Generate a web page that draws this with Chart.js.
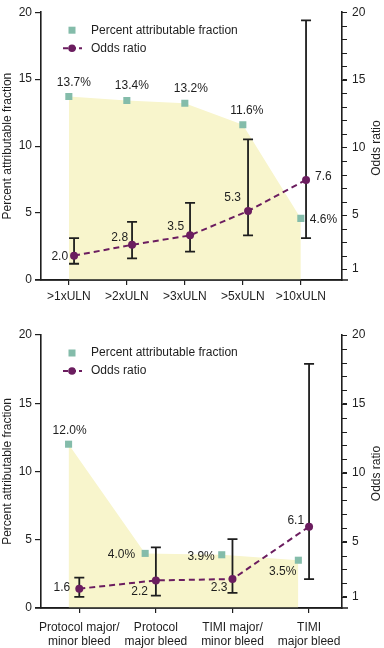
<!DOCTYPE html>
<html>
<head>
<meta charset="utf-8">
<script src="https://cdn.jsdelivr.net/npm/chart.js@4.4.0/dist/chart.umd.min.js"></script>
<style>
  body { margin: 0; background: #fff; }
  canvas { display: block; }
</style>
</head>
<body>
<canvas id="topChart" width="384" height="320"></canvas>
<canvas id="bottomChart" width="384" height="328"></canvas>
<script>
// --- data ---
const topCategories = ['>1xULN', '>2xULN', '>3xULN', '>5xULN', '>10xULN'];
const topPaf = [13.7, 13.4, 13.2, 11.6, 4.6];
const topOdds = [2.0, 2.8, 3.5, 5.3, 7.6];
const topOddsLow = [1.4, 1.8, 2.3, 3.5, 3.3];
const topOddsHigh = [3.3, 4.5, 5.9, 10.6, 19.4];

const bottomCategories = [
  ['Protocol major/', 'minor bleed'],
  ['Protocol', 'major bleed'],
  ['TIMI major/', 'minor bleed'],
  ['TIMI', 'major bleed'],
];
const bottomPaf = [12.0, 4.0, 3.9, 3.5];
const bottomOdds = [1.6, 2.2, 2.3, 6.1];
const bottomOddsLow = [1.0, 1.1, 1.3, 2.3];
const bottomOddsHigh = [2.4, 4.6, 5.2, 17.9];

const leftTicks = [0, 5, 10, 15, 20];
const rightTicks = [1, 5, 10, 15, 20];

const legendLabels = ['Percent attributable fraction', 'Odds ratio'];
const leftTitle = 'Percent attributable fraction';
const rightTitle = 'Odds ratio';

// --- styling ---
const FONT = "'Liberation Sans', Arial, sans-serif";
const INK = '#1e1e1e';
const PURPLE = '#6b1d5f';
const TEAL = '#84bcaa';
const YELLOW = '#f8f5cc';

function makeChart(canvasId, opt) {
  const pafPoints = opt.paf.map((v, i) => ({ x: i + opt.pafShift, y: v }));
  const orPoints = opt.odds.map((v, i) => ({ x: i + opt.orShift, y: v }));
  const rightMinor = Array.from({ length: 20 }, (_, k) => k + 1);

  const overlay = {
    id: 'overlay',
    beforeDatasetDraw(chart, args) {
      if (args.index !== 0) return;
      // error bars under the odds ratio line
      const ctx = chart.ctx;
      const xs = chart.scales.x;
      const yr = chart.scales.yr;
      ctx.save();
      ctx.strokeStyle = INK;
      ctx.lineWidth = 1.8;
      opt.odds.forEach((v, i) => {
        const px = xs.getPixelForValue(i + opt.orShift);
        const lo = yr.getPixelForValue(opt.oddsLow[i]);
        const hi = yr.getPixelForValue(opt.oddsHigh[i]);
        ctx.beginPath();
        ctx.moveTo(px, lo); ctx.lineTo(px, hi);
        ctx.moveTo(px - 5, lo); ctx.lineTo(px + 5, lo);
        ctx.moveTo(px - 5, hi); ctx.lineTo(px + 5, hi);
        ctx.stroke();
      });
      ctx.restore();
    },
    afterDraw(chart) {
      const ctx = chart.ctx;
      const ca = chart.chartArea;
      const yr = chart.scales.yr;
      ctx.save();

      // x axis line runs a little past both y axes
      ctx.strokeStyle = INK;
      ctx.lineWidth = 1.6;
      ctx.beginPath();
      ctx.moveTo(ca.left - 6, ca.bottom);
      ctx.lineTo(ca.right + 6, ca.bottom);
      ctx.stroke();

      // minor tick marks on the odds ratio axis
      ctx.lineWidth = 1;
      ctx.beginPath();
      rightMinor.forEach(v => {
        const py = Math.round(yr.getPixelForValue(v)) + 0.5;
        ctx.moveTo(ca.right, py);
        ctx.lineTo(ca.right + 5, py);
      });
      ctx.stroke();

      ctx.font = '12px ' + FONT;
      ctx.fillStyle = INK;
      ctx.textBaseline = 'middle';

      // value labels
      const drawLabels = (metaIndex, texts, spec) => {
        chart.getDatasetMeta(metaIndex).data.forEach((pt, i) => {
          const [dx, dy, align] = spec[i];
          ctx.textAlign = align;
          ctx.fillText(texts[i], pt.x + dx, pt.y + dy);
        });
      };
      drawLabels(1, opt.paf.map(v => v.toFixed(1) + '%'), opt.pafLabelPos);
      drawLabels(0, opt.odds.map(v => v.toFixed(1)), opt.orLabelPos);

      // legend
      const lx = ca.left + 31;
      const ly1 = ca.top + 18;
      const ly2 = ca.top + 36;
      ctx.fillStyle = TEAL;
      ctx.fillRect(lx - 3.5, ly1 - 3.5, 7, 7);
      ctx.strokeStyle = PURPLE;
      ctx.lineWidth = 2;
      ctx.setLineDash([5, 3]);
      ctx.beginPath();
      ctx.moveTo(lx - 9, ly2);
      ctx.lineTo(lx + 10, ly2);
      ctx.stroke();
      ctx.setLineDash([]);
      ctx.fillStyle = PURPLE;
      ctx.beginPath();
      ctx.arc(lx, ly2, 3.8, 0, Math.PI * 2);
      ctx.fill();
      ctx.fillStyle = INK;
      ctx.textAlign = 'left';
      ctx.fillText(legendLabels[0], ca.left + 50, ly1);
      ctx.fillText(legendLabels[1], ca.left + 50, ly2);

      // axis titles, both reading bottom to top
      const midY = (ca.top + ca.bottom) / 2;
      ctx.textAlign = 'center';
      ctx.save();
      ctx.translate(8, midY);
      ctx.rotate(-Math.PI / 2);
      ctx.fillText(leftTitle, 0, 0);
      ctx.restore();
      ctx.save();
      ctx.translate(377, midY + 2);
      ctx.rotate(-Math.PI / 2);
      ctx.fillText(rightTitle, 0, 0);
      ctx.restore();

      ctx.restore();
    },
  };

  const axisFont = { family: FONT, size: 12 };

  return new Chart(document.getElementById(canvasId), {
    type: 'line',
    data: {
      datasets: [
        {
          label: legendLabels[1],
          data: orPoints,
          yAxisID: 'yr',
          borderColor: PURPLE,
          borderWidth: 2,
          borderDash: [6, 4],
          pointRadius: 4,
          pointBackgroundColor: PURPLE,
          pointBorderWidth: 0,
          fill: false,
          order: 0,
        },
        {
          label: legendLabels[0],
          data: pafPoints,
          yAxisID: 'y',
          borderWidth: 0,
          borderColor: 'rgba(0,0,0,0)',
          backgroundColor: YELLOW,
          fill: 'origin',
          pointStyle: 'rect',
          pointRadius: 5,
          pointBackgroundColor: TEAL,
          pointBorderWidth: 0,
          order: 1,
        },
      ],
    },
    options: {
      responsive: false,
      animation: false,
      layout: { padding: { top: opt.padTop, left: 0, right: 0, bottom: 0 } },
      plugins: {
        legend: { display: false },
        tooltip: { enabled: false },
      },
      scales: {
        x: {
          type: 'linear',
          min: opt.xMin,
          max: opt.xMax,
          afterBuildTicks: s => { s.ticks = opt.categories.map((c, i) => ({ value: i })); },
          afterFit: s => { s.height = 40; },
          ticks: {
            autoSkip: false,
            maxRotation: 0,
            padding: opt.xPad,
            color: INK,
            font: axisFont,
            callback: v => opt.categories[v],
          },
          grid: { drawOnChartArea: false, drawTicks: true, tickLength: 5, color: INK, lineWidth: 1.2 },
          border: { display: true, color: INK, width: 1.6 },
        },
        y: {
          position: 'left',
          min: 0,
          max: 20,
          afterBuildTicks: s => { s.ticks = leftTicks.map(v => ({ value: v })); },
          afterFit: s => { s.width = 41; },
          ticks: { padding: 3, color: INK, font: axisFont },
          grid: { drawOnChartArea: false, drawTicks: true, tickLength: 6, color: INK, lineWidth: 1.2 },
          border: { display: true, color: INK, width: 1.6 },
        },
        yr: {
          position: 'right',
          min: 0.2,
          max: 20,
          afterBuildTicks: s => { s.ticks = rightTicks.map(v => ({ value: v })); },
          afterFit: s => { s.width = 42; },
          ticks: { autoSkip: false, padding: 5, color: INK, font: axisFont },
          grid: { drawOnChartArea: false, drawTicks: true, tickLength: 5, color: INK, lineWidth: 1 },
          border: { display: true, color: INK, width: 1.6 },
        },
      },
    },
    plugins: [overlay],
  });
}

makeChart('topChart', {
  categories: topCategories,
  paf: topPaf,
  odds: topOdds,
  oddsLow: topOddsLow,
  oddsHigh: topOddsHigh,
  padTop: 7,
  xPad: 4,
  xMin: -0.48,
  xMax: 4.71,
  pafShift: 0,
  orShift: 0.09,
  pafLabelPos: [[5, -14, 'center'], [5, -15, 'center'], [6, -15, 'center'], [4, -14, 'center'], [9, 1, 'left']],
  orLabelPos: [[-6, 1, 'right'], [-4, -7, 'right'], [-6, -9, 'right'], [-7, -13, 'right'], [9, -3, 'left']],
});

makeChart('bottomChart', {
  categories: bottomCategories,
  paf: bottomPaf,
  odds: bottomOdds,
  oddsLow: bottomOddsLow,
  oddsHigh: bottomOddsHigh,
  padTop: 15,
  xPad: 7,
  xMin: -0.5,
  xMax: 3.43,
  pafShift: -0.14,
  orShift: 0,
  pafLabelPos: [[1, -14, 'center'], [-10, 1, 'right'], [-7, 2, 'right'], [-2, 11, 'right']],
  orLabelPos: [[-9, -1, 'right'], [-8, 11, 'right'], [-5, 9, 'right'], [-5, -6, 'right']],
});
</script>
</body>
</html>
